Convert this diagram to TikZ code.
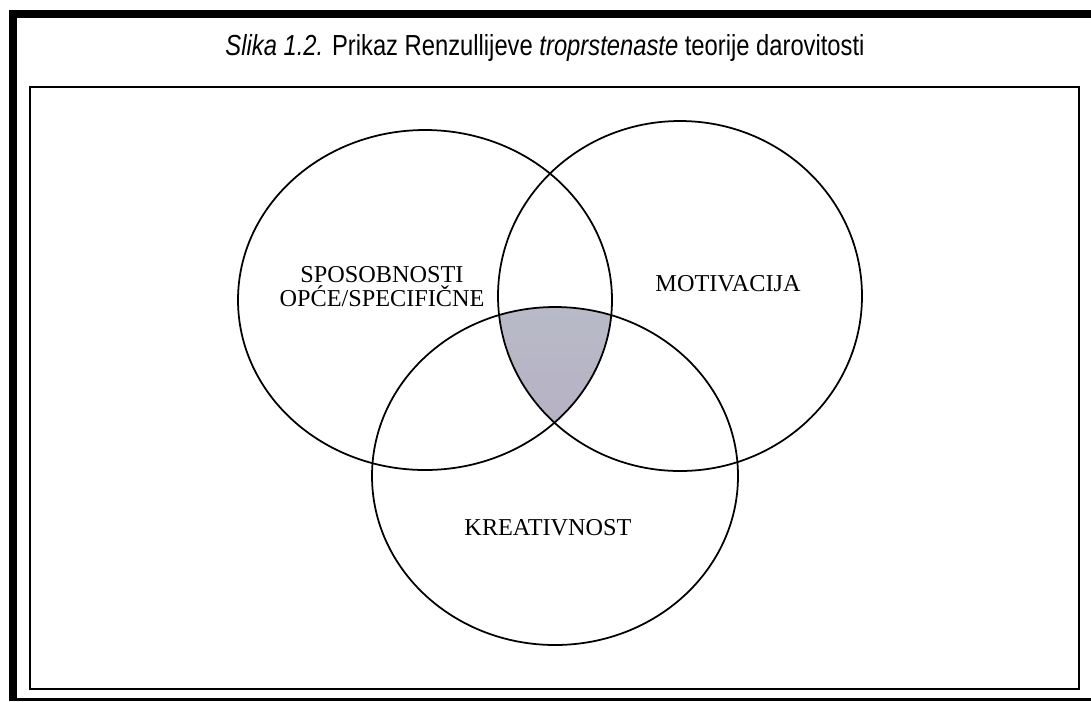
\documentclass[tikz,border=0pt]{standalone}
\usepackage{fontspec}
\setmainfont{Liberation Serif}
\newfontfamily\capfont{Liberation Sans}[FakeStretch=0.82]
\definecolor{coretop}{RGB}{184,186,200}
\definecolor{corebot}{RGB}{180,162,186}
\begin{document}
\begin{tikzpicture}[x=0.02cm,y=-0.02cm,
    ring/.style={line width=1pt},
    ringtext/.style={font=\fontsize{13.8}{13.6}\selectfont,align=center,inner sep=0pt,anchor=base}]
  \useasboundingbox (0,0) rectangle (1091,701);
  \fill[white] (0,0) rectangle (1091,701);
  % outer black frame
  \fill[black] (9,10) rectangle (1091,18);
  \fill[black] (9,10) rectangle (17,701);
  \fill[black] (9,698) rectangle (1091,701);
  \draw[line width=1.1pt] (30,87) rectangle (1079,689);
  \node[font=\capfont\fontsize{16.5}{18}\selectfont,anchor=base,inner sep=0pt] (caption) at (545,55)
    {\textit{Slika 1.2.} Prikaz Renzullijeve \textit{troprstenaste} teorije darovitosti};
  \coordinate (sp) at (425,300);
  \coordinate (mo) at (680,296);
  \coordinate (kr) at (555,476);
  % shaded centre
  \begin{scope}
    \clip (sp) ellipse [x radius=187, y radius=170];
    \clip (mo) ellipse [x radius=182, y radius=175];
    \shade[top color=coretop,bottom color=corebot] (kr) ellipse [x radius=183, y radius=169];
  \end{scope}
  \draw[ring] (sp) ellipse [x radius=187, y radius=170];
  \draw[ring] (mo) ellipse [x radius=182, y radius=175];
  \draw[ring] (kr) ellipse [x radius=183, y radius=169];
  \node[ringtext] (sposobnosti) at (382,306) {SPOSOBNOSTI\\OPĆE/SPECIFIČNE};
  \node[ringtext] (motivacija) at (728,291) {MOTIVACIJA};
  \node[ringtext] (kreativnost) at (548,535) {KREATIVNOST};
\end{tikzpicture}
\end{document}
